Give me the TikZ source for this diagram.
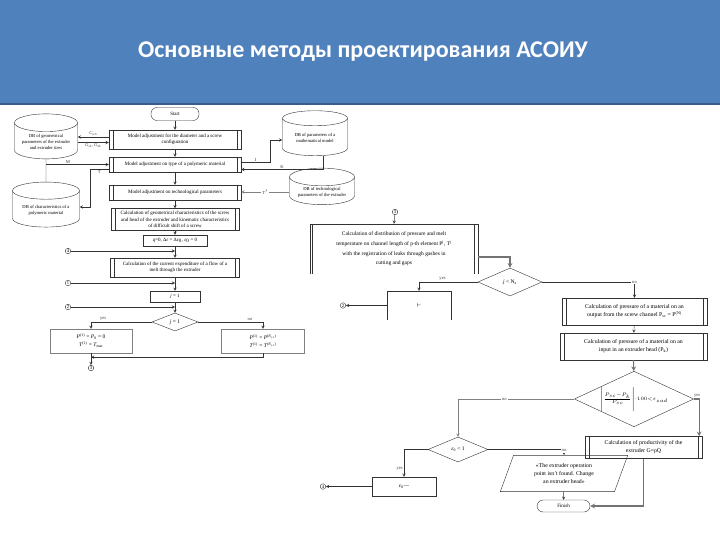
\documentclass[tikz,border=0pt]{standalone}
\usepackage{fontspec}
\setmainfont{Liberation Serif}
\newfontfamily\titlefont{Carlito}
\usetikzlibrary{shapes.geometric}
\definecolor{slideblue}{RGB}{79,129,189}
\definecolor{slideedge}{RGB}{56,93,138}
\newcommand{\vi}[1]{\textit{#1}}

\begin{document}
\begin{tikzpicture}[x=1pt, y=-1pt,
    flowblock/.style={draw=black!80, rectangle, align=center, font=\fontsize{5}{6.3}\selectfont, inner sep=1pt},
    flowbig/.style={flowblock, font=\fontsize{5.8}{8}\selectfont},
    flowsub/.style={flowblock, path picture={
        \draw[black!80] ([xshift=4pt]path picture bounding box.north west) -- ([xshift=4pt]path picture bounding box.south west);
        \draw[black!80] ([xshift=-4pt]path picture bounding box.north east) -- ([xshift=-4pt]path picture bounding box.south east);}},
    flowterm/.style={flowblock, rounded corners=6pt},
    flowdb/.style={draw=black!80, cylinder, shape border rotate=90, shape aspect=0.35, align=center, font=\fontsize{4.6}{5.8}\selectfont, inner sep=1pt},
    flowdec/.style={draw=black!80, diamond, aspect=2.3, inner sep=0pt, font=\fontsize{5.5}{6.5}\selectfont},
    flowio/.style={draw=black!80, trapezium, trapezium left angle=70, trapezium right angle=110, align=center, font=\fontsize{5.8}{8}\selectfont, inner sep=1pt},
    flowlink/.style={draw=black!80, circle, inner sep=0.6pt, font=\fontsize{4.6}{5}\selectfont},
    flowlabel/.style={font=\fontsize{4.6}{5}\selectfont, text=black!75, inner sep=1pt},
    flowarrow/.style={black!80, ->, >=stealth, line width=0.45pt},
    flowgrey/.style={black!55, ->, >=stealth, line width=1.1pt}
]
  \useasboundingbox (0,0) rectangle (720,540);

  % Header
  \fill[slideblue] (0,0) rectangle (720,104);
  \draw[slideedge, line width=1.5pt] (0,104) -- (720,104);
  \node (title) at (363,52) {\titlefont\bfseries\fontsize{24}{28}\selectfont\color{white}Основные методы проектирования АСОИУ};

  % Left scheme: nodes
  \node (start) [flowterm, minimum width=48, minimum height=13] at (175,114) {Start};
  \node (m1) [flowsub, minimum width=132, minimum height=19] at (175,139.5) {Model adjustment for the diameter and a screw\\configuration};
  \node (m2) [flowsub, minimum width=132, minimum height=15] at (175,164.5) {Model adjustment on type of a polymeric material};
  \node (m3) [flowsub, minimum width=132, minimum height=15] at (175,192.5) {Model adjustment on technological parameters};
  \node (m4) [flowsub, minimum width=128, minimum height=22] at (175,219.5) {Calculation of geometrical characteristics of the screw\\and head of the extruder and kinematic characteristics\\of difficult shift of a screw};
  \node (m5) [flowblock, minimum width=64, minimum height=11] at (175,240.5) {\vi{q}=0, Δ\vi{ε} = Δ\vi{ε}\textsubscript{0}, \vi{ε}\textsubscript{0} = 0};
  \node (m6) [flowsub, minimum width=129, minimum height=19] at (175,267.5) {Calculation of the current expenditure of a flow of a\\melt through the extruder};
  \node (m7) [flowblock, minimum width=50, minimum height=11] at (175,296.5) {\vi{j} = 1};
  \node (d1) [flowdec, minimum width=46, minimum height=18] at (175,322) {\vi{j} = 1};
  \node (b8) [flowblock, draw=black!50, minimum width=82, minimum height=24, font=\fontsize{5.5}{8}\selectfont] at (91,341) {\vi{P}\textsuperscript{(1)} = \vi{P}\textsubscript{0} = 0\\\vi{T}\textsuperscript{(1)} = \vi{T}\textsubscript{mat}};
  \node (b9) [flowblock, draw=black!50, minimum width=83, minimum height=24, font=\fontsize{5.5}{8}\selectfont] at (263,341) {\vi{P}\textsuperscript{(1)} = \vi{P}\textsuperscript{(\vi{N}\textsubscript{\vi{j}-1})}\\\vi{T}\textsuperscript{(1)} = \vi{T}\textsuperscript{(\vi{N}\textsubscript{\vi{j}-1})}};
  \node (c4) [flowlink] at (68,251) {4};
  \node (c1) [flowlink] at (68,283) {1};
  \node (c2) [flowlink] at (68,307) {2};
  \node (c3) [flowlink] at (91,368) {3};

  \node (db1) [flowdb, minimum width=63, minimum height=45] at (46,142) {DB of geometrical\\parameters of the extruder\\and extruder tires};
  \node (db2) [flowdb, minimum width=67, minimum height=45] at (46,210) {DB of characteristics of a\\polymeric material};
  \node (db3) [flowdb, minimum width=65, minimum height=45] at (315,138) {DB of parameters of a\\mathematical model};
  \node (db4) [flowdb, minimum width=65, minimum height=36] at (322,192) {DB of technological\\parameters of the extruder};

  % Left scheme: arrows
  \draw [flowarrow] (start) -- (m1);
  \draw [flowarrow] (m1) -- (m2);
  \draw [flowarrow] (m2) -- (m3);
  \draw [flowarrow] (m3) -- (m4);
  \draw [flowarrow] (m4) -- (m5);
  \draw [flowarrow] (m5) -- (m6);
  \draw [flowarrow] (m6) -- (m7);
  \draw [flowarrow] (m7) -- (d1);
  \draw [flowarrow] (c4) -- (c4 -| m6.north);
  \draw [flowarrow] (c1) -- (c1 -| m7.north);
  \draw [flowarrow] (c2) -- (c2 -| d1.north);
  \draw [flowarrow] (d1.west) -| node[flowlabel, pos=0.4, above] {yes} (b8.north);
  \draw [flowarrow] (d1.east) -| node[flowlabel, pos=0.4, above] {no} (b9.north);
  \draw [flowarrow] (b9.south) |- ([yshift=-4pt]b8.south);
  \draw [flowarrow] (b8.south) -- (c3.north);

  \draw [flowarrow] ([yshift=2.5pt]m1.west) -- node[flowlabel, above] {\vi{C}\textsubscript{sch}} ([yshift=2.5pt]m1.west -| db1.east);
  \draw [flowarrow] ([yshift=-3pt]m1.west -| db1.east) -- node[flowlabel, below] {\vi{G}\textsubscript{sh}, \vi{G}\textsubscript{dh}} ([yshift=-3pt]m1.west);
  \draw [black!80, line width=0.45pt] (db1.south) -- (db2.north);
  \draw [flowarrow] (m2.west -| db1.south) -- node[flowlabel, above, pos=0.35] {M} (m2.west);
  \draw [flowarrow] ([yshift=-5pt]m2.west) -- ++(-19,0) node[flowlabel, below, pos=0.5] {T} |- ([yshift=3pt]db2.east);
  \draw [flowarrow] ([yshift=2pt]m2.east) -- ++(29,0) node[flowlabel, above, pos=0.5] {I} |- ([yshift=-2pt]db3.west);
  \draw [flowarrow] ([xshift=8pt]db3.south) |- node[flowlabel, above, pos=0.75] {K} ([yshift=-5pt]m2.east);
  \draw [flowarrow, black!50] (db4.west) -- node[flowlabel, fill=white] {T$'$} (db4.west -| m3.east);

  % Right scheme: nodes
  \node (c3r) [flowlink] at (395,212) {3};
  \node (r1) [flowbig, draw=none, minimum width=168, minimum height=50, font=\fontsize{5.5}{9.6}\selectfont] at (394,249) {Calculation of distribution of pressure and melt\\temperature on channel length of p-th element P\textsuperscript{j}, T\textsuperscript{j}\\with the registration of leaks through gashes in\\cutting and gaps};
  \draw [black!80] (r1.south west) -- (r1.north west) -- (r1.north east) -- (r1.south east);
  \draw [black!80, line width=0.8pt] ([xshift=3pt]r1.north west) -- ([xshift=3pt]r1.south west);
  \draw [black!80] ([xshift=-4pt]r1.north east) -- ([xshift=-4pt]r1.south east);
  \node (dj) [flowdec, minimum width=64, minimum height=28] at (510,282) {\vi{j} < N\textsubscript{z}};
  \node (r2) [flowbig, draw=none, minimum width=64, minimum height=29] at (419,305.5) {$\vdash$};
  \draw [black!80] (r2.south west) -- (r2.north west) -- (r2.north east) -- (r2.south east);
  \node (c2r) [flowlink] at (343,305.5) {2};
  \node (r3) [flowsub, flowbig, minimum width=145, minimum height=27] at (634.5,311.5) {Calculation of pressure of a material on an\\output from the screw channel P\textsubscript{sc} = P\textsuperscript{(N)}};
  \node (r4) [flowsub, flowbig, minimum width=147, minimum height=27] at (633.5,346.5) {Calculation of pressure of a material on an\\input in an extruder head (P\textsubscript{k})};
  \node (d2) [flowdec, aspect=2.15, minimum width=112, minimum height=52, font=\fontsize{4}{5}\selectfont] at (634,399) {$\Bigl|\frac{P_{sc}-P_{k}}{P_{sc}}\Bigr|{\cdot}100{<}\varepsilon_{zad}$};
  \node (r5) [flowsub, flowbig, minimum width=117, minimum height=22] at (643.5,447.5) {Calculation of productivity of the\\extruder G=ρQ};
  \node (d3) [flowdec, minimum width=60, minimum height=25] at (458,449.5) {\vi{ε}\textsubscript{0} < 1};
  \node (r6) [flowblock, minimum width=64, minimum height=19, font=\fontsize{5.5}{7}\selectfont] at (404,486.5) {\vi{ε}\textsubscript{0}---};
  \node (c4r) [flowlink] at (323,486.5) {4};
  \node (r7) [flowio, minimum width=128, minimum height=23] at (564,473.5) {«The extruder operation\\point isn't found. Change\\an extruder head»};
  \node (fin) [flowterm, minimum width=53, minimum height=12] at (563.5,506) {Finish};

  % Right scheme: arrows
  \draw [flowarrow] (c3r) -- (r1.north);
  \draw [flowgrey] ([yshift=-8pt]r1.east) -| (dj.north);
  \draw [flowarrow] (dj.west) -| node[flowlabel, pos=0.3, above] {yes} (r2.north);
  \draw [flowarrow] (r2.west) -- (c2r);
  \draw [flowarrow] (dj.east) -| node[flowlabel, pos=0.5, fill=white] {no} (r3.north);
  \draw [flowarrow] (r3) -- (r4);
  \draw [flowgrey] (r4) -- (d2);
  \draw [flowgrey] (d2.east) -| node[flowlabel, pos=0.3, above] {yes} ([xshift=-3pt]r5.north east);
  \draw [flowarrow, black!50] (d2.west) -| node[flowlabel, pos=0.3, fill=white] {no} (d3.north);
  \draw [flowarrow] (d3.west) -| node[flowlabel, pos=0.85, left] {yes} (r6.north);
  \draw [flowarrow] (r6.west) -- (c4r);
  \draw [flowarrow] (d3.east) -| node[flowlabel, pos=0.6, fill=white] {no} (r7.north);
  \draw [flowarrow] (r7) -- (fin);
  \draw [flowgrey] (r5.south) |- (fin.east);
\end{tikzpicture}
\end{document}
